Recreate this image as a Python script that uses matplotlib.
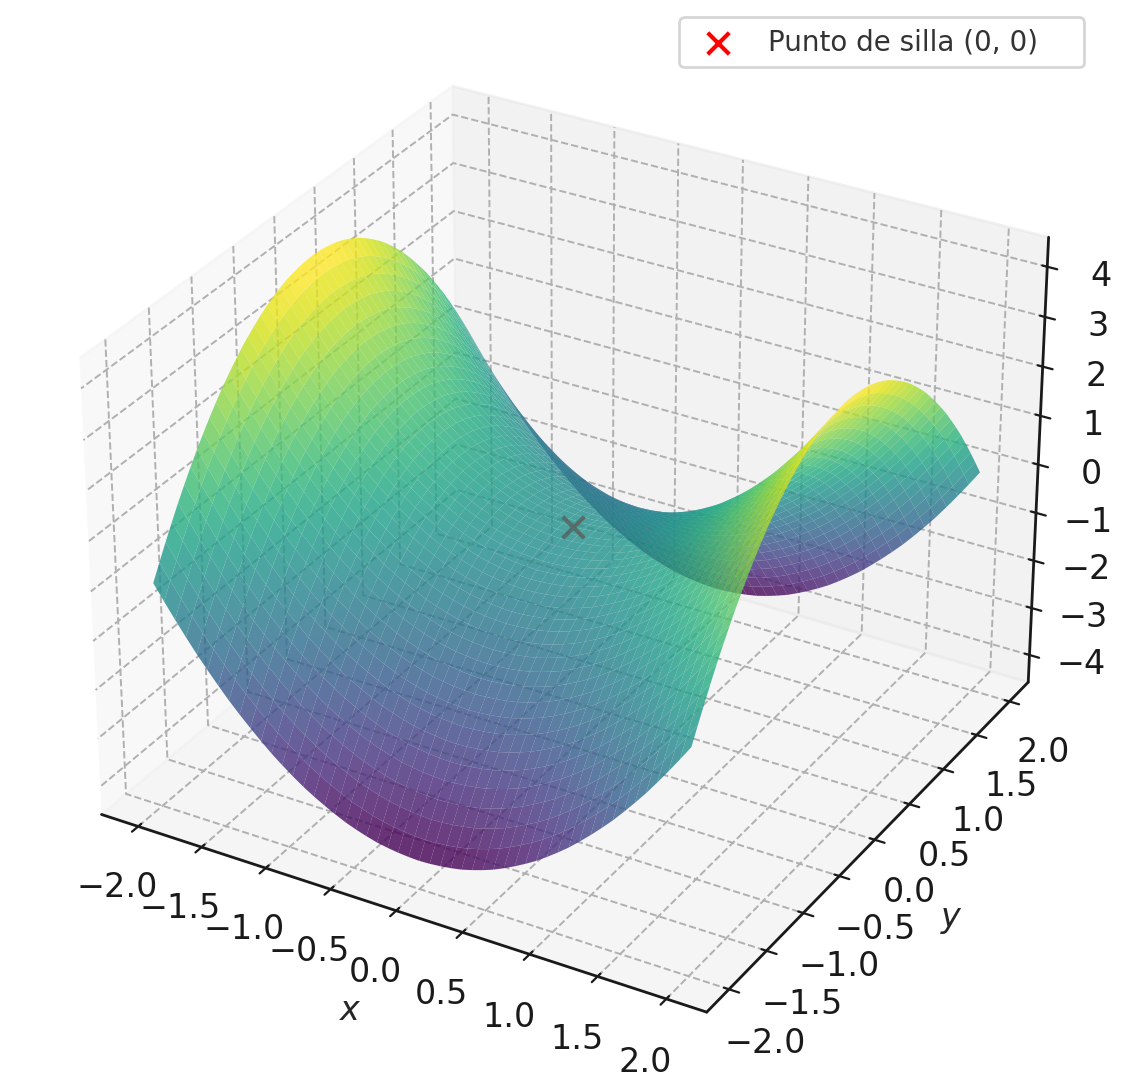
import matplotlib
matplotlib.use('Agg')
import numpy as np
import seaborn as sns
import matplotlib.pyplot as plt

# grid positions and the height of each profile
x_grid = [-2.0, -1.92, -1.84, -1.76, -1.68, -1.6, -1.52, -1.44, -1.36, -1.28, -1.2, -1.12, -1.04,
          -0.96, -0.88, -0.8, -0.72, -0.64, -0.56, -0.48, -0.4, -0.32, -0.24, -0.16, -0.08, 0.0,
          0.08, 0.16, 0.24, 0.32, 0.4, 0.48, 0.56, 0.64, 0.72, 0.8, 0.88, 0.96,
          1.04, 1.12, 1.2, 1.28, 1.36, 1.44, 1.52, 1.6, 1.68, 1.76, 1.84, 1.92, 2.0]
y_grid = list(x_grid)
x_rise = [4.0, 3.69, 3.39, 3.1, 2.82, 2.56, 2.31, 2.07, 1.85, 1.64, 1.44, 1.25, 1.08,
          0.92, 0.77, 0.64, 0.52, 0.41, 0.31, 0.23, 0.16, 0.1, 0.06, 0.03, 0.01, 0.0,
          0.01, 0.03, 0.06, 0.1, 0.16, 0.23, 0.31, 0.41, 0.52, 0.64, 0.77, 0.92,
          1.08, 1.25, 1.44, 1.64, 1.85, 2.07, 2.31, 2.56, 2.82, 3.1, 3.39, 3.69, 4.0]
y_drop = list(x_rise)

saddle_x = [0]
saddle_y = [0]
saddle_z = [0]

xy_ticks = [-2.0, -1.5, -1.0, -0.5, 0.0, 0.5, 1.0, 1.5, 2.0]
z_ticks = [-4, -3, -2, -1, 0, 1, 2, 3, 4]

sns.set_style('whitegrid')
plt.rcParams['grid.linestyle'] = '--'
plt.rcParams['grid.color'] = '#b0b0b0'
plt.rcParams['grid.linewidth'] = 0.7
plt.rcParams['axes.edgecolor'] = '#1a1a1a'
plt.rcParams['axes.linewidth'] = 1.0
plt.rcParams['xtick.color'] = '#1a1a1a'
plt.rcParams['ytick.color'] = '#1a1a1a'

fig = plt.figure(figsize=(5.66, 5.425), dpi=200)
ax = fig.add_axes([-0.0028, 0.0045, 0.993, 0.993], projection='3d')

X, Y = np.meshgrid(x_grid, y_grid)
Z = np.array(x_rise)[None, :] - np.array(y_drop)[:, None]

ax.plot_surface(X, Y, Z, cmap='viridis', edgecolor='none', alpha=0.8, rstride=1, cstride=1)
sc = ax.scatter(saddle_x, saddle_y, saddle_z, color='red', marker='x', s=60,
                label='Punto de silla (0, 0)')

ax.set_xticks(xy_ticks)
ax.set_yticks(xy_ticks)
ax.set_zticks(z_ticks)
ax.tick_params(labelsize=12, pad=3.7)
ax.set_xlabel('$x$', fontsize=12, labelpad=4.5)
ax.set_ylabel('$y$', fontsize=12, labelpad=4.5)

fig.legend(handles=[sc], loc='lower left', mode='expand', fontsize=10,
           bbox_to_anchor=(0.6, 0.938, 0.358, 0.05), bbox_transform=fig.transFigure,
           borderaxespad=0, labelcolor='#333333')

fig.savefig('out.png', dpi=200)
